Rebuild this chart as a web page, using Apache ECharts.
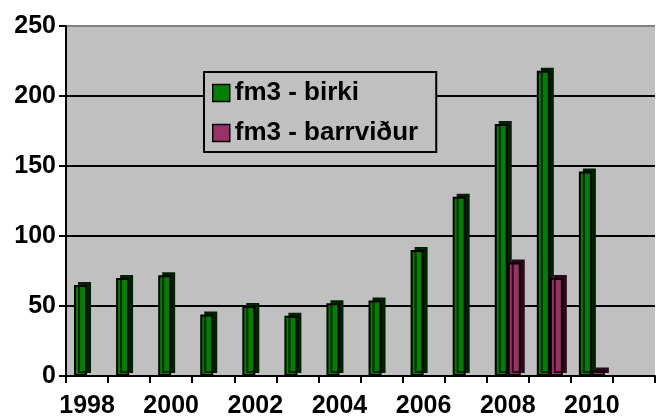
<!DOCTYPE html>
<html>
<head>
<meta charset="utf-8">
<script src="https://cdn.jsdelivr.net/npm/echarts@6/dist/echarts.min.js"></script>
<style>
  html, body { margin: 0; padding: 0; background: #fff; }
  #main { width: 657px; height: 419px; }
</style>
</head>
<body>
<div id="main"></div>
<script>
// ár
var years = ["1998", "1999", "2000", "2001", "2002", "2003", "2004", "2005", "2006", "2007", "2008", "2009", "2010", "2011"];
// fm3 - birki
var birki = [65, 70, 72, 44, 50, 43, 52, 54, 90, 128, 180, 218, 146, null];
// fm3 - barrviður
var barrvidur = [null, null, null, null, null, null, null, null, null, null, 81, 70, 4, null];

var myChart = echarts.init(document.getElementById("main"));
var font = "Liberation Sans, Arial, sans-serif";

myChart.setOption({
  animation: false,
  grid: {
    left: 66,
    right: 2,
    top: 26,
    bottom: 41,
    show: true,
    backgroundColor: "#c0c0c0",
    borderWidth: 0
  },
  legend: {
    left: 204,
    top: 72,
    orient: "vertical",
    backgroundColor: "#c0c0c0",
    borderColor: "#000",
    borderWidth: 2,
    padding: [8, 18, 6, 8],
    itemGap: 14,
    itemWidth: 17,
    itemHeight: 17,
    icon: "rect",
    itemStyle: { borderColor: "#000", borderWidth: 1.5 },
    textStyle: { fontFamily: font, fontWeight: "bold", fontSize: 26, color: "#000" },
    data: ["fm3 - birki", "fm3 - barrviður"]
  },
  xAxis: {
    type: "category",
    data: years,
    boundaryGap: true,
    axisLine: { lineStyle: { color: "#000", width: 2 } },
    axisTick: { show: true, interval: 0, length: 7, lineStyle: { color: "#000", width: 2 } },
    axisLabel: {
      interval: 1,
      margin: 18,
      color: "#000",
      fontFamily: font,
      fontWeight: "bold",
      fontSize: 25
    },
    splitLine: { show: false }
  },
  yAxis: {
    type: "value",
    min: 0,
    max: 250,
    interval: 50,
    axisLine: { show: true, lineStyle: { color: "#000", width: 2 } },
    axisTick: { show: true, length: 7, lineStyle: { color: "#000", width: 2 } },
    axisLabel: {
      margin: 10,
      color: "#000",
      fontFamily: font,
      fontWeight: "bold",
      fontSize: 25
    },
    splitLine: {
      show: true,
      lineStyle: { color: ["#000", "#000", "#000", "#000", "#000", "#808080"], width: 2 }
    }
  },
  series: [
    {
      name: "fm3 - birki",
      type: "bar",
      barWidth: 13,
      barGap: "0%",
      data: birki,
      itemStyle: {
        color: "#008000",
        borderColor: "#000",
        borderWidth: 2,
        shadowColor: "#002200",
        shadowOffsetX: 4,
        shadowOffsetY: -3,
        shadowBlur: 0
      }
    },
    {
      name: "fm3 - barrviður",
      type: "bar",
      barWidth: 13,
      barGap: "0%",
      data: barrvidur,
      itemStyle: {
        color: "#993366",
        borderColor: "#000",
        borderWidth: 2,
        shadowColor: "#2a0a1a",
        shadowOffsetX: 4,
        shadowOffsetY: -3,
        shadowBlur: 0
      }
    }
  ]
});
</script>
</body>
</html>
